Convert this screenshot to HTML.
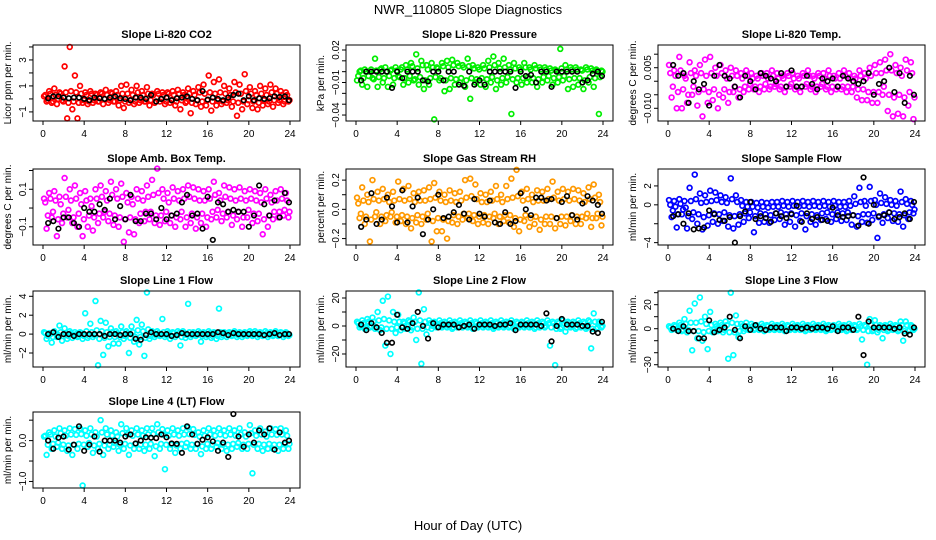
<!DOCTYPE html>
<html><head><meta charset="utf-8"><style>
body{margin:0;background:#fff;}
svg{display:block;font-family:"Liberation Sans",sans-serif;}
</style></head><body>
<svg id="chart" width="936" height="540" viewBox="0 0 936 540">
<rect width="936" height="540" fill="#fff"/>
<text x="468" y="14" text-anchor="middle" font-size="13">NWR_110805  Slope Diagnostics</text>
<text x="468" y="530" text-anchor="middle" font-size="13">Hour of Day (UTC)</text>
</svg>
<script>
const hoursColor=[0.1,0.35,0.6,0.85,1.1,1.35,1.6,1.85,2.1,2.35,2.6,2.85,3.1,3.35,3.6,3.85,
4.1,4.35,4.6,4.85,5.1,5.35,5.6,5.85,6.1,6.35,6.6,6.85,7.1,7.35,7.6,7.85,
8.1,8.35,8.6,8.85,9.1,9.35,9.6,9.85,10.1,10.35,10.6,10.85,11.1,11.35,11.6,11.85,
12.1,12.35,12.6,12.85,13.1,13.35,13.6,13.85,14.1,14.35,14.6,14.85,15.1,15.35,15.6,15.85,
16.1,16.35,16.6,16.85,17.1,17.35,17.6,17.85,18.1,18.35,18.6,18.85,19.1,19.35,19.6,19.85,
20.1,20.35,20.6,20.85,21.1,21.35,21.6,21.85,22.1,22.35,22.6,22.85,23.1,23.35,23.6,23.85];
const hoursCore=[0.22,0.47,0.72,0.97,1.22,1.47,1.72,1.97,2.22,2.47,2.72,2.97,3.22,3.47,3.72,3.97,
4.22,4.47,4.72,4.97,5.22,5.47,5.72,5.97,6.22,6.47,6.72,6.97,7.22,7.47,7.72,7.97,
8.22,8.47,8.72,8.97,9.22,9.47,9.72,9.97,10.22,10.47,10.72,10.97,11.22,11.47,11.72,11.97,
12.22,12.47,12.72,12.97,13.22,13.47,13.72,13.97,14.22,14.47,14.72,14.97,15.22,15.47,15.72,15.97,
16.22,16.47,16.72,16.97,17.22,17.47,17.72,17.97,18.22,18.47,18.72,18.97,19.22,19.47,19.72,19.97,
20.22,20.47,20.72,20.97,21.22,21.47,21.72,21.97,22.22,22.47,22.72,22.97,23.22,23.47,23.72,23.95];
const hoursBlack=[0.5,1,1.5,2,2.5,3,3.5,4,4.5,5,5.5,6,6.5,7,7.5,8,8.5,9,9.5,10,10.5,11,11.5,12,
12.5,13,13.5,14,14.5,15,15.5,16,16.5,17,17.5,18,18.5,19,19.5,20,20.5,21,21.5,22,22.5,23,23.5,23.9];
const xTicks=[0,4,8,12,16,20,24];
const titles=["Slope Li-820 CO2","Slope Li-820 Pressure","Slope Li-820 Temp.","Slope Amb. Box Temp.","Slope Gas Stream RH","Slope Sample Flow","Slope Line 1 Flow","Slope Line 2 Flow","Slope Line 3 Flow","Slope Line 4 (LT) Flow"];
const yTitles=["Licor ppm per min.","kPa per min.","degrees C per min.","degrees C per min.","percent per min.","ml/min per min.","ml/min per min.","ml/min per min.","ml/min per min.","ml/min per min."];
const colors=["#ff0000","#00ee00","#ff00ff","#ff00ff","#ff9900","#0000ff","#00ffff","#00ffff","#00ffff","#00ffff"];
const yDomains=[[-1.7,4.15],[-0.0455,0.0246],[-0.0147,0.0134],[-0.197,0.208],[-0.244,0.276],[-4.25,3.79],[-3.48,4.56],[-29.3,25],[-31.9,31.4],[-1.16,0.70]];
const yTicks=[[-1,0,1,2,3,4],[-0.04,-0.03,-0.02,-0.01,0,0.01,0.02],[-0.01,-0.005,0,0.005,0.01],[-0.1,0,0.1,0.2],[-0.2,-0.1,0,0.1,0.2],[-4,-2,0,2],[-2,0,2,4],[-20,-10,0,10,20],[-30,-20,-10,0,10,20,30],[-1,-0.5,0,0.5]];
const yTickLabels=[[["-1",-1],["1",1],["3",3]],[["-0.04",-0.04],["-0.01",-0.01],["0.02",0.02]],[["-0.010",-0.01],["0.005",0.005]],[["-0.1",-0.1],["0.1",0.1]],[["-0.2",-0.2],["0.0",0],["0.2",0.2]],[["-4",-4],["0",0],["2",2]],[["-2",-2],["0",0],["2",2],["4",4]],[["-20",-20],["0",0],["20",20]],[["-30",-30],["0",0],["20",20]],[["-1.0",-1],["0.0",0]]];
const yColor0=[0.2,-0.2,0.6,-0.3,0.8,-0.4,0.5,-0.1,2.5,-1.5,4.0,-0.8,1.8,-1.5,1.0,-0.3,0.5,-0.4,0.6,-0.3,0.4,-0.2,0.5,-0.4,0.7,-0.3,0.5,-0.2,0.6,-0.5,1.0,-0.7,1.1,-0.3,0.7,-0.4,1.0,-0.3,0.6,-0.2,0.9,-0.5,0.4,-0.3,0.6,-0.2,0.5,-0.4,0.5,-0.3,0.6,-0.5,0.7,-0.8,0.5,-0.3,0.8,-1.1,0.6,-0.4,0.9,-0.6,1.1,-0.5,1.8,-0.9,1.3,-0.5,1.5,-0.4,1.0,-0.3,0.8,-0.6,1.3,-1.3,1.1,-0.8,1.9,-0.4,0.9,-0.7,0.6,-0.8,1.0,-0.5,0.8,-0.4,1.1,-0.6,0.8,-0.3,0.6,-0.4,0.5,-0.2];
const yCore0=[0.3,-0.1,0.4,-0.2,0.3,0.0,0.4,-0.2,0.5,-0.3,0.6,-0.2,0.5,-0.3,0.4,-0.1,0.3,-0.2,0.4,-0.1,0.3,-0.2,0.4,0.0,0.3,-0.1,0.4,-0.2,0.3,-0.1,0.4,-0.2,0.4,-0.1,0.3,-0.2,0.5,-0.1,0.3,-0.2,0.4,-0.1,0.3,-0.2,0.4,0.0,0.3,-0.2,0.4,-0.1,0.3,-0.2,0.4,-0.1,0.3,-0.2,0.4,-0.3,0.3,-0.1,0.5,-0.2,0.4,-0.1,0.5,-0.2,0.4,-0.1,0.5,-0.2,0.4,-0.1,0.3,-0.2,0.5,-0.3,0.4,-0.2,0.6,-0.1,0.4,-0.2,0.3,-0.3,0.4,-0.1,0.3,-0.2,0.5,-0.1,0.4,-0.1,0.3,-0.2,0.3,-0.1];
const yBlack0=[0.05,0.2,0.2,0.1,0.05,0.1,0.1,0.0,-0.1,0.1,0.05,0.0,0.1,0.2,0.05,0.0,-0.1,0.1,0.1,0.0,0.3,-0.2,0.0,0.1,-0.1,0.05,0.1,0.2,0.0,-0.1,0.6,-0.05,0.1,0.0,-0.1,0.1,0.3,0.4,-0.1,0.2,-0.1,0.05,0.0,0.05,0.2,0.15,0.2,-0.1];
const yColor1=[-0.008,0.0,-0.012,0.002,-0.014,0.0,-0.006,0.012,-0.014,0.002,-0.01,0.004,-0.014,0.001,-0.012,0.004,-0.004,0.002,-0.012,0.006,-0.01,0.008,-0.008,0.016,-0.012,0.01,-0.016,0.006,-0.012,0.008,-0.044,0.004,-0.008,0.008,-0.018,0.01,-0.016,0.011,-0.012,0.008,-0.01,0.006,-0.014,0.012,-0.025,0.006,-0.01,0.004,-0.012,0.006,-0.014,0.01,-0.01,0.014,-0.016,0.008,-0.012,0.012,-0.01,0.006,-0.039,0.008,-0.01,0.004,-0.012,0.008,-0.01,0.004,-0.01,0.006,-0.014,0.004,-0.01,0.004,-0.008,0.003,-0.012,0.002,-0.01,0.021,-0.008,0.006,-0.016,0.004,-0.014,0.004,-0.012,0.002,-0.016,0.004,-0.01,0.003,-0.014,0.002,-0.039,0.001];
const yCore1=[-0.004,0.001,-0.006,0.0,-0.004,0.002,-0.007,0.001,-0.005,0.003,-0.006,0.0,-0.004,0.002,-0.006,0.001,-0.005,0.004,-0.006,0.002,-0.004,0.005,-0.007,0.003,-0.005,0.006,-0.008,0.002,-0.006,0.004,-0.005,0.003,-0.006,0.005,-0.008,0.004,-0.006,0.006,-0.007,0.005,-0.006,0.004,-0.008,0.005,-0.006,0.003,-0.007,0.002,-0.006,0.003,-0.007,0.004,-0.005,0.006,-0.008,0.003,-0.006,0.004,-0.005,0.002,-0.007,0.003,-0.006,0.002,-0.006,0.004,-0.005,0.002,-0.006,0.003,-0.007,0.002,-0.005,0.002,-0.004,0.001,-0.006,0.001,-0.005,0.003,-0.004,0.002,-0.007,0.002,-0.006,0.002,-0.006,0.001,-0.008,0.002,-0.005,0.001,-0.006,0.001,-0.005,0.0];
const yBlack1=[-0.008,0.0,0.0,0.0,0.0,0.0,-0.015,0.0,-0.006,0.0,0.0,0.0,-0.008,-0.009,0.0,0.0,-0.008,0.0,0.0,-0.012,-0.013,0.0,-0.012,-0.008,-0.012,0.0,0.0,0.0,0.0,0.0,-0.015,0.0,-0.004,-0.003,-0.01,0.0,0.0,-0.014,0.0,0.0,0.0,0.0,0.0,-0.01,-0.008,-0.002,0.0,-0.004];
const yColor2=[0.006,-0.006,0.004,-0.01,0.009,-0.01,0.002,-0.008,0.007,-0.005,0.004,-0.009,0.006,-0.013,0.008,-0.008,0.009,-0.007,0.005,-0.01,0.006,-0.006,0.004,-0.008,0.005,-0.004,0.004,-0.006,0.003,-0.004,0.004,-0.003,0.003,-0.003,0.002,-0.004,0.003,-0.003,0.003,-0.003,0.004,-0.002,0.003,-0.003,0.002,-0.004,0.003,-0.002,0.003,-0.003,0.002,-0.004,0.003,-0.002,0.004,-0.003,0.002,-0.004,0.003,-0.002,0.003,-0.003,0.004,-0.004,0.002,-0.003,0.003,-0.003,0.004,-0.004,0.003,-0.004,0.002,-0.006,0.004,-0.007,0.003,-0.007,0.005,-0.008,0.006,-0.008,0.007,-0.005,0.008,-0.011,0.01,-0.013,0.006,-0.012,0.005,-0.013,0.008,-0.009,0.007,-0.014];
const yCore2=[0.003,-0.002,0.002,-0.004,0.004,-0.003,0.001,-0.005,0.003,-0.002,0.002,-0.004,0.003,-0.003,0.002,-0.004,0.003,-0.003,0.002,-0.005,0.003,-0.003,0.001,-0.004,0.002,-0.002,0.002,-0.003,0.001,-0.002,0.002,-0.001,0.001,-0.002,0.001,-0.002,0.002,-0.001,0.001,-0.002,0.002,-0.001,0.001,-0.002,0.001,-0.002,0.002,-0.001,0.001,-0.002,0.001,-0.002,0.002,-0.001,0.002,-0.002,0.001,-0.002,0.002,-0.001,0.001,-0.002,0.002,-0.002,0.001,-0.002,0.001,-0.002,0.002,-0.002,0.001,-0.002,0.001,-0.003,0.002,-0.003,0.001,-0.004,0.002,-0.004,0.003,-0.004,0.003,-0.002,0.004,-0.005,0.004,-0.006,0.003,-0.005,0.002,-0.006,0.004,-0.004,0.003,-0.006];
const yBlack2=[0.006,0.002,0.003,-0.008,0.0,-0.003,-0.001,-0.009,0.002,0.006,0.002,0.001,-0.002,-0.006,0.002,0.0,-0.003,0.003,0.002,0.001,0.0,0.003,-0.002,0.004,-0.002,-0.002,0.002,-0.001,-0.003,0.001,0.0,0.001,-0.002,0.002,0.001,0.0,-0.001,0.0,0.003,-0.005,-0.001,0.0,0.005,-0.004,0.003,-0.008,0.002,-0.005];
const yColor3=[0.05,-0.11,0.08,-0.05,0.09,-0.15,0.06,-0.08,0.16,-0.05,0.1,-0.08,0.12,-0.1,0.08,-0.15,0.09,-0.1,0.05,-0.12,0.1,-0.08,0.12,-0.05,0.09,-0.07,0.14,-0.09,0.1,-0.1,0.13,-0.18,0.08,-0.13,0.06,-0.14,0.1,-0.08,0.09,-0.07,0.12,-0.06,0.15,-0.08,0.21,-0.09,0.1,-0.07,0.08,-0.08,0.11,-0.1,0.09,-0.06,0.1,-0.1,0.12,-0.08,0.11,-0.11,0.1,-0.08,0.09,-0.1,0.1,-0.06,0.14,-0.05,0.08,-0.07,0.12,-0.05,0.11,-0.09,0.1,-0.06,0.11,-0.1,0.09,-0.05,0.1,-0.08,0.09,-0.07,0.08,-0.14,0.1,-0.1,0.07,-0.06,0.09,-0.05,0.1,-0.04,0.08,-0.05];
const yCore3=[0.03,-0.04,0.05,-0.02,0.04,-0.06,0.02,-0.03,0.06,-0.01,0.04,-0.05,0.05,-0.03,0.02,-0.06,0.04,-0.04,0.01,-0.05,0.05,-0.03,0.06,-0.02,0.04,-0.03,0.07,-0.04,0.05,-0.05,0.06,-0.06,0.03,-0.05,0.02,-0.06,0.05,-0.03,0.04,-0.02,0.06,-0.02,0.07,-0.04,0.08,-0.04,0.05,-0.02,0.03,-0.04,0.05,-0.05,0.04,-0.02,0.05,-0.05,0.06,-0.03,0.05,-0.05,0.04,-0.03,0.04,-0.05,0.05,-0.02,0.07,-0.01,0.04,-0.03,0.06,-0.02,0.05,-0.04,0.04,-0.02,0.05,-0.05,0.04,-0.01,0.05,-0.03,0.04,-0.03,0.03,-0.06,0.05,-0.04,0.03,-0.02,0.04,-0.02,0.05,-0.01,0.04,-0.02];
const yBlack3=[-0.08,-0.07,-0.11,-0.05,-0.05,-0.08,-0.1,0.0,-0.02,-0.02,0.02,-0.01,0.05,-0.06,0.01,-0.06,0.07,-0.07,-0.07,-0.03,-0.03,-0.06,0.0,-0.06,-0.04,-0.03,0.03,0.07,-0.04,-0.03,-0.11,0.06,-0.17,0.03,0.02,-0.02,-0.01,-0.02,-0.02,-0.1,-0.04,0.12,0.02,-0.04,0.04,-0.05,0.08,0.03];
const yColor4=[0.08,-0.06,0.15,-0.1,0.1,-0.22,0.2,-0.05,0.12,-0.1,0.14,-0.08,0.1,-0.05,0.12,-0.09,0.19,-0.08,0.14,-0.1,0.16,-0.13,0.11,-0.09,0.12,-0.1,0.13,-0.07,0.15,-0.22,0.18,-0.15,0.12,-0.15,0.1,-0.2,0.13,-0.09,0.11,-0.1,0.12,-0.07,0.2,-0.06,0.21,-0.08,0.17,-0.1,0.11,-0.09,0.1,-0.1,0.12,-0.06,0.16,-0.1,0.1,-0.08,0.16,-0.09,0.21,-0.12,0.27,-0.15,0.12,-0.08,0.14,-0.12,0.1,-0.1,0.13,-0.14,0.12,-0.1,0.14,-0.1,0.19,-0.13,0.12,-0.1,0.14,-0.11,0.12,-0.08,0.14,-0.1,0.13,-0.1,0.11,-0.06,0.15,-0.12,0.17,-0.06,0.1,-0.11];
const yCore4=[0.04,-0.03,0.06,-0.05,0.05,-0.07,0.07,-0.02,0.06,-0.05,0.07,-0.04,0.05,-0.02,0.06,-0.05,0.07,-0.04,0.06,-0.05,0.07,-0.06,0.05,-0.04,0.06,-0.05,0.06,-0.03,0.07,-0.08,0.08,-0.06,0.06,-0.07,0.05,-0.08,0.06,-0.04,0.05,-0.05,0.06,-0.03,0.08,-0.03,0.09,-0.04,0.07,-0.05,0.05,-0.04,0.05,-0.05,0.06,-0.03,0.07,-0.05,0.05,-0.04,0.07,-0.04,0.08,-0.06,0.09,-0.07,0.06,-0.04,0.07,-0.06,0.05,-0.05,0.06,-0.07,0.06,-0.05,0.07,-0.05,0.08,-0.06,0.06,-0.05,0.07,-0.05,0.06,-0.04,0.07,-0.05,0.06,-0.05,0.05,-0.03,0.07,-0.06,0.08,-0.03,0.05,-0.05];
const yBlack4=[-0.12,-0.07,0.11,-0.1,-0.07,0.08,0.02,-0.09,0.13,-0.09,0.02,0.08,-0.17,-0.07,0.0,0.1,-0.06,-0.05,-0.02,0.03,-0.03,-0.07,0.07,-0.03,-0.05,0.06,-0.09,-0.1,-0.02,-0.1,-0.08,0.11,0.0,-0.04,0.08,0.08,0.06,0.07,-0.06,0.05,0.09,-0.04,-0.07,0.04,0.09,0.06,0.03,-0.03];
const yColor5=[0.5,-1.3,0.4,-2.4,0.6,-1.0,0.4,-2.5,1.8,-1.5,3.2,-2.0,1.2,-2.6,1.0,-2.2,1.5,-1.8,1.3,-2.0,1.0,-1.7,0.8,-2.3,2.8,-2.5,1.0,-2.1,0.5,-1.8,0.3,-1.4,0.3,-2.9,0.2,-1.9,0.3,-1.8,0.2,-1.9,0.3,-1.6,0.3,-1.5,0.4,-2.1,0.3,-1.8,0.4,-2.3,0.3,-1.7,0.4,-2.6,0.3,-1.8,0.4,-2.1,0.3,-1.6,0.4,-1.5,0.3,-1.8,0.4,-1.5,0.3,-1.7,0.3,-1.6,0.4,-2.1,0.9,-2.3,1.8,-1.8,0.4,-1.9,1.9,-1.6,0.5,-3.5,1.2,-1.9,0.8,-1.4,0.5,-1.7,0.4,-1.8,1.4,-2.3,0.6,-1.5,0.4,-0.9];
const yCore5=[0.0,-0.6,-0.2,-1.0,0.1,-0.5,-0.3,-1.2,0.4,-0.8,0.6,-1.0,0.2,-1.3,0.3,-1.1,0.4,-0.9,0.5,-1.0,0.3,-0.8,0.2,-1.1,0.6,-1.2,0.3,-1.0,-0.1,-0.9,-0.2,-0.8,-0.2,-1.2,-0.3,-0.9,-0.2,-1.0,-0.3,-1.1,-0.2,-0.9,-0.2,-0.8,-0.1,-1.0,-0.2,-0.9,-0.1,-1.1,-0.2,-0.9,-0.1,-1.2,-0.2,-1.0,-0.1,-1.1,-0.2,-0.9,-0.1,-0.8,-0.2,-1.0,-0.1,-0.8,-0.2,-0.9,-0.2,-0.8,-0.1,-1.1,0.1,-1.2,0.3,-1.0,-0.1,-1.0,0.4,-0.9,0.0,-1.3,0.2,-1.0,0.1,-0.8,0.0,-0.9,-0.1,-1.0,0.3,-1.1,0.1,-0.8,0.0,-0.5];
const yBlack5=[-1.2,-1.0,-2.0,-0.9,-2.6,-2.5,-2.4,-0.6,-1.0,-1.6,-1.7,-1.3,-4.0,-1.2,-0.7,0.3,-1.5,-1.2,-1.4,-1.8,-0.9,-1.2,-1.4,-1.0,-0.1,-1.8,-0.9,-1.5,-1.3,-1.6,-1.7,-0.3,-1.1,-1.3,-1.2,-1.1,-2.2,2.9,-2.0,0.0,-1.2,-1.1,-0.8,-1.5,-1.3,-0.9,-1.5,0.3];
const yColor6=[0.2,-0.5,0.1,-0.9,0.3,-0.3,0.9,-0.7,0.6,-0.5,0.3,-0.4,0.2,-0.3,0.2,-0.5,2.2,-0.4,1.1,-0.3,3.5,-3.3,1.4,-2.2,1.2,-1.3,0.6,-1.0,0.3,-1.0,0.8,-0.5,0.3,-2.0,0.8,-0.8,1.5,-1.1,1.0,-2.3,4.4,-0.5,0.3,-0.3,0.3,-0.2,1.6,-0.3,0.3,-0.5,0.2,-0.3,0.3,-1.2,0.3,-0.4,3.2,-0.3,0.2,-0.2,0.3,-0.8,0.2,-0.3,0.3,-0.4,0.2,-0.5,2.7,-0.3,0.2,-0.3,0.2,-0.2,0.3,-0.3,0.2,-0.3,0.2,-0.2,0.3,-0.2,0.3,-0.3,0.2,-0.2,0.3,-0.3,0.2,-0.2,0.3,-0.2,0.2,-0.3,0.2,-0.2];
const yCore6=[0.1,-0.2,0.0,-0.3,0.1,-0.1,0.2,-0.2,0.1,-0.2,0.1,-0.1,0.0,-0.2,0.1,-0.2,0.3,-0.2,0.2,-0.1,0.4,-0.5,0.3,-0.4,0.2,-0.3,0.2,-0.3,0.1,-0.3,0.2,-0.2,0.1,-0.4,0.2,-0.3,0.4,-0.3,0.3,-0.4,0.5,-0.2,0.1,-0.1,0.1,-0.1,0.2,-0.1,0.1,-0.2,0.1,-0.1,0.1,-0.3,0.1,-0.1,0.2,-0.1,0.1,-0.1,0.1,-0.2,0.1,-0.1,0.1,-0.2,0.1,-0.2,0.2,-0.1,0.1,-0.1,0.1,-0.1,0.1,-0.1,0.1,-0.1,0.1,-0.1,0.1,-0.1,0.1,-0.1,0.1,-0.1,0.1,-0.1,0.1,-0.1,0.1,-0.1,0.1,-0.1,0.1,-0.1];
const yBlack6=[0.0,0.2,-0.3,0.0,0.0,-0.2,0.0,0.0,0.0,0.0,0.0,-0.2,0.0,0.0,-0.1,0.0,0.0,-0.5,-0.6,-0.1,0.2,0.0,0.0,0.0,-0.2,-0.1,0.1,0.0,0.0,0.0,0.0,0.0,0.0,0.2,0.1,-0.1,0.1,0.0,0.0,0.0,0.0,0.0,-0.1,0.0,0.1,-0.1,0.0,0.0];
const yColor7=[3,-1,4,-2,5,-1,6,-2,10,-3,18,-14,21,-20,10,-5,8,-3,3,-2,4,-3,6,-10,24,-27,12,-6,4,-2,3,-1,4,-1,3,-1,4,-2,3,-1,4,-1,3,-1,4,-2,3,-1,4,-1,3,-1,4,-2,3,-1,4,-1,3,-1,4,-2,3,-1,3,-1,4,-1,3,-2,4,-1,3,-1,4,-14,3,-28,3,-2,4,-4,3,-1,3,-2,4,-1,3,-2,4,-16,9,-2,3,-1];
const yCore7=[2,0,2,-1,3,0,3,-1,4,-1,5,-2,4,-2,3,-1,3,-1,2,0,3,-1,3,-2,4,-2,3,-1,2,0,2,0,2,0,2,0,2,-1,2,0,2,0,2,0,2,-1,2,0,2,0,2,0,2,-1,2,0,2,0,2,0,2,-1,2,0,2,0,2,0,2,-1,2,0,2,0,2,-1,2,-2,2,-1,2,-1,2,0,2,-1,2,0,2,-1,3,-2,3,-1,2,0];
const yBlack7=[1,-3,2,-1,-5,-12,-12,8,-1,-2,2,10,0,-9,2,-1,1,1,1,-1,0,1,-2,1,1,1,0,1,1,2,-3,1,1,1,1,0,9,-11,0,5,1,1,1,0,0,-4,-5,3];
const yColor8=[2,-1,3,-1,5,-2,8,-3,15,-18,21,-8,26,-10,10,-17,14,-3,4,-2,5,-3,6,-25,30,-22,11,-7,4,-2,5,-1,4,-1,3,-1,4,-2,3,-1,4,-1,3,-1,4,-2,3,-1,4,-1,3,-1,4,-2,3,-1,4,-1,3,-1,4,-2,3,-1,3,-1,4,-1,3,-2,4,-1,3,-1,4,-9,3,-30,8,-2,7,-3,3,-8,3,-2,4,-1,3,-2,6,-10,6,-2,3,-1];
const yCore8=[1,0,2,0,3,-1,4,-1,5,-2,5,-2,6,-3,4,-2,3,-1,2,0,3,-1,3,-3,5,-3,4,-2,2,0,2,0,2,0,2,0,2,-1,2,0,2,0,2,0,2,-1,2,0,2,0,2,0,2,-1,2,0,2,0,2,0,2,-1,2,0,2,0,2,0,2,-1,2,0,2,0,2,-1,2,-2,3,-1,3,-1,2,-1,2,-1,2,0,2,-1,3,-2,3,-1,2,0];
const yBlack8=[0,-2,2,-2,-2,-8,-8,7,-3,-1,1,10,-1,-8,2,-1,3,0,-1,1,1,1,-2,1,1,0,1,0,1,1,0,2,-2,1,1,-1,10,-22,6,1,1,1,1,0,1,-4,-5,1];
const yColor9=[0.1,-0.35,0.2,-0.2,0.25,-0.15,0.3,-0.2,0.25,-0.25,0.3,-0.35,0.28,-0.2,0.3,-1.1,0.25,-0.15,0.3,-0.3,0.2,-0.2,0.5,-0.35,0.3,-0.2,0.25,-0.15,0.2,-0.25,0.4,-0.2,0.3,-0.35,0.25,-0.2,0.3,-0.2,0.25,-0.25,0.3,-0.2,0.3,-0.38,0.4,-0.2,0.28,-0.7,0.25,-0.2,0.3,-0.3,0.25,-0.2,0.3,-0.15,0.32,-0.2,0.28,-0.2,0.2,-0.33,0.25,-0.2,0.3,-0.2,0.25,-0.15,0.3,-0.2,0.25,-0.25,0.3,-0.2,0.25,-0.15,0.3,-0.2,0.2,-0.2,0.38,-0.8,0.25,-0.2,0.3,-0.25,0.22,-0.2,0.3,-0.2,0.28,-0.25,0.3,-0.2,0.25,-0.2];
const yCore9=[0.12,-0.1,0.15,-0.08,0.1,-0.05,0.18,-0.1,0.12,-0.12,0.15,-0.1,0.14,-0.08,0.16,-0.1,0.12,-0.06,0.15,-0.12,0.1,-0.08,0.2,-0.12,0.15,-0.1,0.12,-0.06,0.1,-0.1,0.18,-0.08,0.15,-0.12,0.12,-0.08,0.15,-0.1,0.12,-0.1,0.15,-0.08,0.16,-0.14,0.2,-0.08,0.14,-0.1,0.12,-0.1,0.15,-0.12,0.12,-0.08,0.15,-0.06,0.16,-0.1,0.14,-0.08,0.1,-0.14,0.12,-0.08,0.15,-0.1,0.12,-0.06,0.15,-0.1,0.12,-0.1,0.15,-0.08,0.12,-0.06,0.15,-0.1,0.1,-0.08,0.18,-0.1,0.12,-0.08,0.15,-0.1,0.1,-0.08,0.15,-0.1,0.14,-0.1,0.15,-0.08,0.12,-0.08];
const yBlack9=[0.0,-0.2,0.07,0.1,-0.22,-0.1,0.35,-0.25,-0.1,0.1,-0.27,0.0,0.0,0.0,-0.05,0.1,0.15,-0.07,0.0,0.08,0.07,0.06,0.15,0.08,-0.07,-0.08,-0.3,0.35,0.15,-0.08,0.02,0.08,-0.02,-0.25,-0.05,-0.4,0.65,0.1,-0.15,0.15,-0.05,0.25,0.15,0.3,-0.22,0.2,-0.05,0.0];
const colorSeries=[yColor0,yColor1,yColor2,yColor3,yColor4,yColor5,yColor6,yColor7,yColor8,yColor9];
const coreSeries=[yCore0,yCore1,yCore2,yCore3,yCore4,yCore5,yCore6,yCore7,yCore8,yCore9];
const blackSeries=[yBlack0,yBlack1,yBlack2,yBlack3,yBlack4,yBlack5,yBlack6,yBlack7,yBlack8,yBlack9];

const NS="http://www.w3.org/2000/svg";
const svg=document.getElementById('chart');
const colLeft=[33,346,658], rowTop=[45,169,291,412], boxW=267, boxH=76;
function mk(tag,attrs,parent){const e=document.createElementNS(NS,tag);for(const k in attrs)e.setAttribute(k,attrs[k]);parent.appendChild(e);return e;}
for(let p=0;p<10;p++){
  const L=colLeft[p%3], T=rowTop[Math.floor(p/3)], B=T+boxH;
  const g=mk('g',{},svg);
  
  
  const xs=h=>L+10+h/24*247;
  const [y0,y1]=yDomains[p];
  const ys=v=>B-(v-y0)/(y1-y0)*boxH;
  const t=mk('text',{x:L+boxW/2,y:T-7,'text-anchor':'middle','font-size':11,'font-weight':'bold'},g);
  t.textContent=titles[p];
  
  
  const yt=mk('text',{transform:`translate(${L-22},${T+boxH/2}) rotate(-90)`,'text-anchor':'middle','font-size':10},g);
  yt.textContent=yTitles[p];
  
  
  const hc=colorSeries[p];
  for(let i=0;i<hc.length;i++){
    const c=mk('circle',{cx:xs(hoursColor[i]),cy:ys(hc[i]),r:2.4,fill:'none',stroke:colors[p],'stroke-width':1.7},g);
    
    
  }
  const cc=coreSeries[p];
  for(let i=0;i<cc.length;i++){
    const c=mk('circle',{cx:xs(hoursCore[i]),cy:ys(cc[i]),r:2.4,fill:'none',stroke:colors[p],'stroke-width':1.7},g);
    
    
  }
  const hb=blackSeries[p];
  for(let i=0;i<hb.length;i++){
    const c=mk('circle',{cx:xs(hoursBlack[i]),cy:ys(hb[i]),r:2.3,fill:'none',stroke:'#000','stroke-width':1.6},g);
    
    
  }
  const box=mk('rect',{x:L,y:T,width:boxW,height:boxH,fill:'none',stroke:'#000','stroke-width':1},g);
  
  
  xTicks.forEach(v=>{
    mk('line',{x1:xs(v),x2:xs(v),y1:B,y2:B+4,stroke:'#000'},g);
    const tx=mk('text',{x:xs(v),y:B+16,'text-anchor':'middle','font-size':10},g);
    tx.textContent=v;
    
    
  });
  const tks=yTicks[p];
  tks.forEach(v=>{const y=ys(v);if(y>=T-1&&y<=B+1)mk('line',{x1:L-4,x2:L,y1:y,y2:y,stroke:'#000'},g);});
  yTickLabels[p].forEach(([lab,v])=>{
    const tx=mk('text',{transform:`translate(${L-7},${ys(v)}) rotate(-90)`,'text-anchor':'middle','font-size':10},g);
    tx.textContent=lab.replace('-','\u2212');
    
    
  });
}
</script>
</body></html>
